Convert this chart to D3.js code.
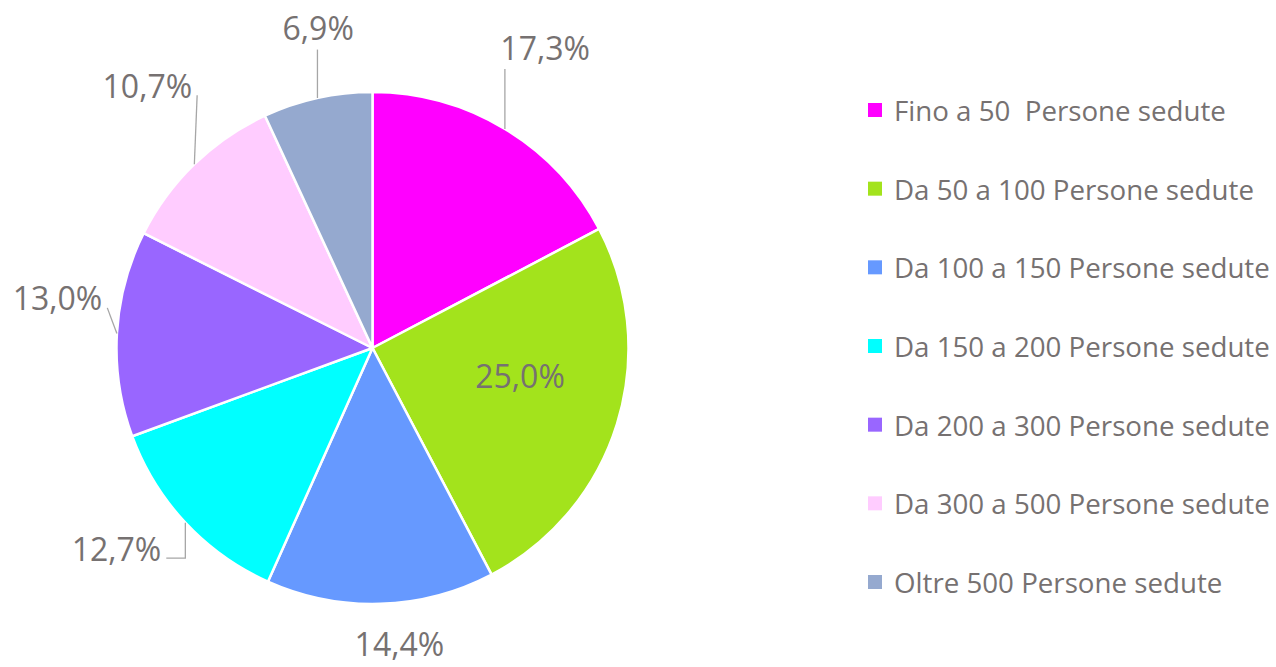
<!DOCTYPE html>
<html>
<head>
<meta charset="utf-8">
<script src="https://cdn.jsdelivr.net/npm/d3@7"></script>
<style>
  html, body { margin: 0; padding: 0; background: #fff; }
  svg { display: block; font-family: "Open Sans", sans-serif; }
</style>
</head>
<body>
<svg id="chart" width="1276" height="667"></svg>
<script>
// dati
const categories = [
  'Fino a 50  Persone sedute',
  'Da 50 a 100 Persone sedute',
  'Da 100 a 150 Persone sedute',
  'Da 150 a 200 Persone sedute',
  'Da 200 a 300 Persone sedute',
  'Da 300 a 500 Persone sedute',
  'Oltre 500 Persone sedute'
];
const values = [17.3, 25.0, 14.4, 12.7, 13.0, 10.7, 6.9];
const colors = ['#ff00ff', '#a3e31c', '#6699ff', '#00ffff', '#9966ff', '#ffccff', '#95a9cf'];

// posizionamento etichette (stile "best fit" di Excel)
const labelRadius = [347, 150, 297, 325, 319, 346, 325];
const labelShift  = [-1.3, -6.9, -3.4, 5, 5.8, 3.5, 2.8];   // gradi
const leaderType  = ['up', 'none', 'none', 'side', 'side', 'side', 'up'];

const cx = 372.5, cy = 348, r = 256;
const textColor = '#767171';
const fmt = v => d3.format('.1f')(v).replace('.', ',') + '%';

const svg = d3.select('#chart');
const g = svg.append('g').attr('transform', `translate(${cx},${cy})`);

const pie = d3.pie().sort(null).value(d => d);
const arcs = pie(values);
const arc = d3.arc().innerRadius(0).outerRadius(r);

g.selectAll('path.slice')
  .data(arcs)
  .enter().append('path')
    .attr('class', 'slice')
    .attr('d', arc)
    .attr('fill', (d, i) => colors[i])
    .attr('stroke', '#fff')
    .attr('stroke-width', 2.5)
    .attr('stroke-linejoin', 'round');

const polar = (a, rad) => [rad * Math.sin(a), -rad * Math.cos(a)];

// etichette + linee guida
arcs.forEach((d, i) => {
  const mid = (d.startAngle + d.endAngle) / 2;
  const [lx, ly] = polar(mid + labelShift[i] * Math.PI / 180, labelRadius[i]);
  const t = g.append('text')
    .attr('x', lx).attr('y', ly)
    .attr('text-anchor', 'middle')
    .attr('dominant-baseline', 'central')
    .attr('font-size', 32)
    .attr('fill', textColor)
    .text(fmt(values[i]));

  if (leaderType[i] === 'none') return;
  const [ax, ay] = polar(mid, r);
  let pts;
  if (leaderType[i] === 'up') {
    pts = [[ax, ay], [ax, ly + 22]];
  } else {
    const w = t.node().getComputedTextLength();
    const ex = lx + w / 2 + 5, ey = ly + 10;
    pts = Math.abs(ax - ex) > 12 ? [[ax, ay], [ax, ey], [ex, ey]] : [[ax, ay], [ex, ey]];
  }
  g.insert('path', 'text')
    .attr('d', d3.line()(pts))
    .attr('fill', 'none')
    .attr('stroke', '#a6a6a6')
    .attr('stroke-width', 1.3);
});

// legenda
const legendY = d3.scalePoint().domain(categories).range([110, 582]);
const legend = svg.append('g');
const item = legend.selectAll('g.item')
  .data(categories)
  .enter().append('g')
    .attr('class', 'item')
    .attr('transform', d => `translate(868,${legendY(d)})`);

item.append('rect')
  .attr('x', 0).attr('y', -7)
  .attr('width', 14).attr('height', 14)
  .attr('fill', (d, i) => colors[i]);

item.append('text')
  .attr('x', 26).attr('y', 0)
  .attr('dominant-baseline', 'central')
  .attr('font-size', 27.7)
  .attr('fill', textColor)
  .style('white-space', 'pre')
  .text(d => d);
</script>
</body>
</html>
